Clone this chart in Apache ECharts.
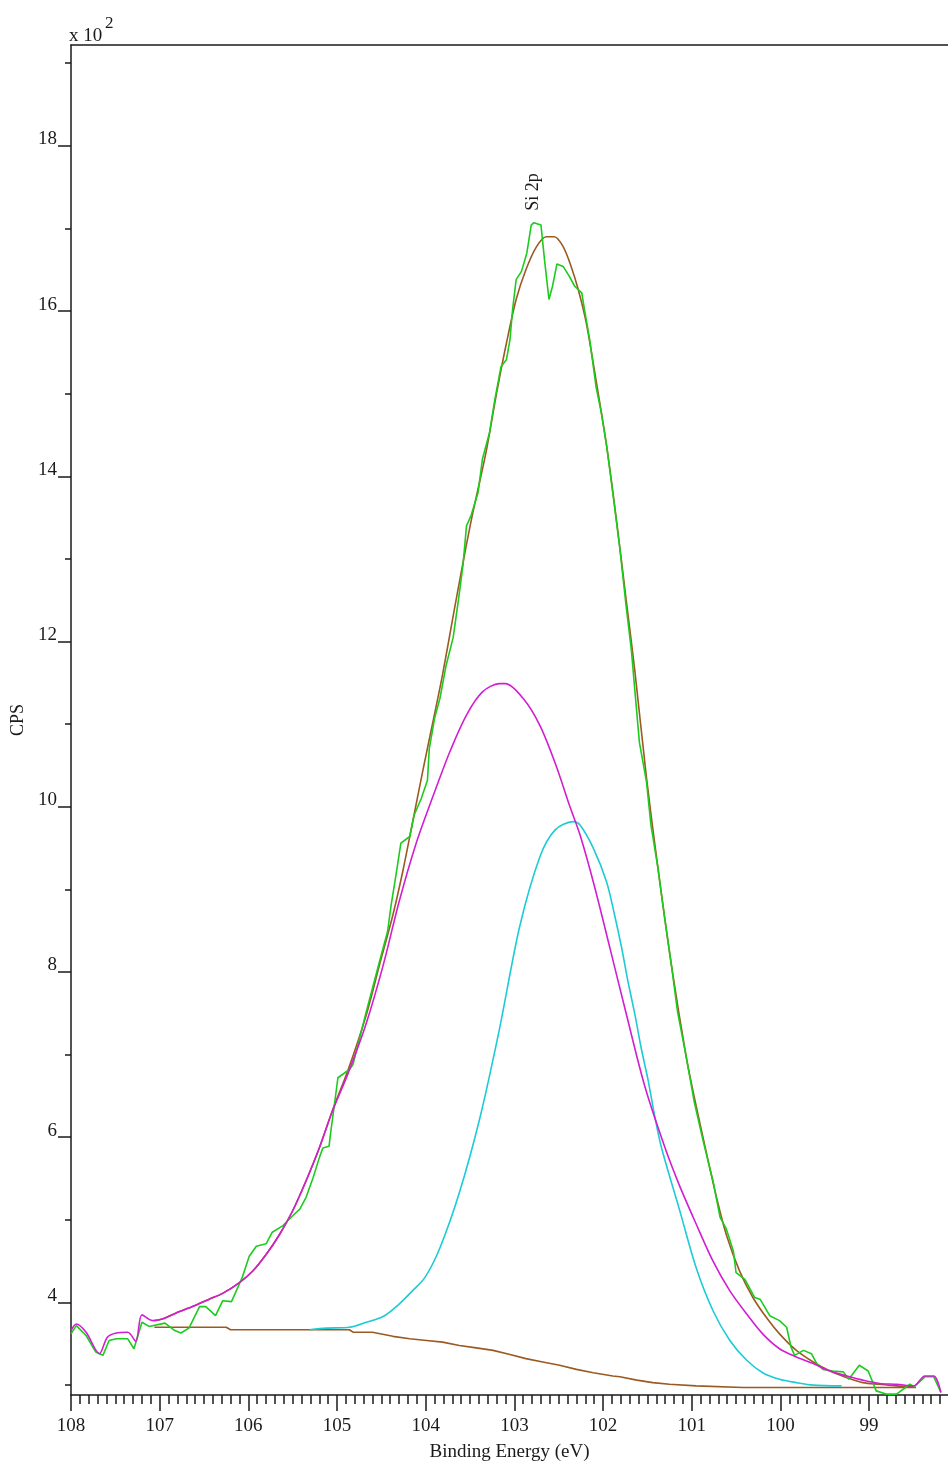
<!DOCTYPE html>
<html>
<head>
<meta charset="utf-8">
<script src="https://cdn.jsdelivr.net/npm/echarts@6/dist/echarts.min.js"></script>
<style>
html,body{margin:0;padding:0;background:#fff;}
#chart{width:948px;height:1467px;}
</style>
</head>
<body>
<div id="chart"></div>
<script>
// Binding energy (eV) / CPS (x10^2) pairs
const rawCounts = [
[108.00,3.62],[107.94,3.72],[107.83,3.60],[107.72,3.40],[107.64,3.36],[107.57,3.54],[107.49,3.56],[107.36,3.56],
[107.29,3.44],[107.20,3.76],[107.12,3.71],[106.94,3.75],[106.83,3.66],[106.76,3.63],[106.67,3.69],[106.55,3.95],
[106.48,3.95],[106.37,3.84],[106.29,4.02],[106.19,4.01],[106.07,4.30],[105.99,4.56],[105.91,4.68],[105.80,4.71],
[105.73,4.85],[105.61,4.93],[105.50,5.05],[105.42,5.13],[105.35,5.27],[105.27,5.51],[105.20,5.75],[105.16,5.87],
[105.09,5.89],[105.07,6.07],[105.03,6.39],[104.99,6.72],[104.86,6.82],[104.82,6.88],[104.67,7.52],[104.52,8.13],
[104.43,8.49],[104.39,8.81],[104.33,9.21],[104.28,9.56],[104.18,9.64],[104.13,9.90],[104.05,10.10],[103.98,10.32],
[103.96,10.70],[103.90,11.07],[103.84,11.31],[103.77,11.71],[103.69,12.05],[103.63,12.51],[103.58,12.92],[103.54,13.40],
[103.49,13.52],[103.41,13.80],[103.36,14.21],[103.28,14.53],[103.22,14.93],[103.15,15.33],[103.09,15.41],[103.05,15.65],
[103.02,16.02],[102.98,16.38],[102.92,16.48],[102.86,16.70],[102.81,17.04],[102.78,17.07],[102.70,17.04],[102.66,16.62],
[102.61,16.14],[102.57,16.30],[102.52,16.57],[102.45,16.54],[102.38,16.42],[102.32,16.30],[102.24,16.22],[102.21,16.02],
[102.15,15.65],[102.08,15.09],[102.02,14.77],[101.96,14.37],[101.89,13.80],[101.81,13.12],[101.74,12.43],[101.68,11.89],
[101.64,11.39],[101.59,10.78],[101.51,10.30],[101.46,9.78],[101.38,9.25],[101.31,8.69],[101.23,8.09],[101.16,7.52],
[101.06,6.96],[100.97,6.42],[100.87,5.95],[100.76,5.47],[100.68,5.03],[100.61,4.89],[100.53,4.62],[100.50,4.36],
[100.40,4.28],[100.29,4.06],[100.23,4.04],[100.12,3.84],[100.01,3.78],[99.93,3.70],[99.88,3.46],[99.84,3.36],
[99.74,3.42],[99.65,3.38],[99.59,3.26],[99.52,3.19],[99.41,3.17],[99.29,3.16],[99.23,3.07],[99.11,3.24],
[99.01,3.17],[98.92,2.93],[98.80,2.89],[98.69,2.89],[98.54,3.01],[98.49,2.98],[98.37,3.10],[98.27,3.10],[98.19,2.91]
];

const envelopeFit = [
[107.06,3.78],[106.97,3.80],[106.82,3.87],[106.63,3.95],[106.44,4.04],[106.29,4.11],[106.10,4.24],[105.95,4.38],
[105.80,4.58],[105.65,4.82],[105.50,5.11],[105.35,5.47],[105.20,5.87],[105.05,6.33],[104.88,6.80],[104.67,7.48],
[104.52,8.09],[104.37,8.69],[104.26,9.21],[104.15,9.80],[104.03,10.45],[103.92,11.02],[103.81,11.60],[103.69,12.31],
[103.58,12.95],[103.47,13.55],[103.32,14.29],[103.20,15.01],[103.09,15.61],[102.98,16.14],[102.87,16.50],[102.75,16.78],
[102.64,16.90],[102.55,16.90],[102.45,16.78],[102.36,16.54],[102.28,16.26],[102.19,15.86],[102.08,15.17],[101.96,14.37],
[101.85,13.48],[101.74,12.51],[101.64,11.63],[101.51,10.35],[101.38,9.25],[101.23,8.09],[101.06,6.96],[100.97,6.48],
[100.83,5.79],[100.72,5.27],[100.61,4.82],[100.46,4.38],[100.31,4.06],[100.16,3.82],[100.01,3.62],[99.82,3.42],
[99.63,3.28],[99.44,3.17],[99.25,3.09],[99.07,3.03],[98.88,3.01],[98.69,2.99],[98.49,2.98]
];

const componentHigh = [
[108.00,3.66],[107.94,3.74],[107.83,3.64],[107.68,3.38],[107.59,3.58],[107.49,3.63],[107.36,3.64],[107.27,3.53],
[107.20,3.85],[107.08,3.78],[106.97,3.80],[106.82,3.87],[106.63,3.95],[106.44,4.04],[106.29,4.11],[106.10,4.24],
[105.95,4.38],[105.80,4.58],[105.65,4.82],[105.50,5.11],[105.35,5.47],[105.20,5.87],[105.05,6.32],[104.88,6.76],
[104.67,7.38],[104.48,8.08],[104.30,8.85],[104.11,9.55],[103.92,10.12],[103.73,10.66],[103.54,11.11],[103.36,11.39],
[103.17,11.49],[103.10,11.49],[102.90,11.31],[102.71,10.98],[102.53,10.50],[102.38,10.02],[102.26,9.66],[102.10,9.05],
[101.92,8.28],[101.74,7.50],[101.53,6.62],[101.31,5.90],[101.14,5.42],[100.95,4.95],[100.76,4.50],[100.57,4.14],
[100.38,3.86],[100.20,3.62],[100.01,3.44],[99.82,3.34],[99.63,3.26],[99.44,3.17],[99.25,3.11],[99.07,3.06],
[98.88,3.02],[98.69,3.01],[98.50,2.99],[98.37,3.11],[98.27,3.11],[98.19,2.91]
];

const componentLow = [
[105.31,3.67],[105.12,3.69],[104.86,3.70],[104.67,3.76],[104.48,3.83],[104.30,3.98],[104.15,4.14],[104.01,4.30],
[103.84,4.66],[103.62,5.33],[103.39,6.23],[103.17,7.30],[102.94,8.55],[102.71,9.40],[102.54,9.72],[102.34,9.82],
[102.26,9.78],[102.11,9.50],[101.96,9.09],[101.87,8.69],[101.79,8.29],[101.72,7.89],[101.64,7.48],[101.57,7.08],
[101.49,6.68],[101.42,6.27],[101.34,5.87],[101.14,5.13],[100.95,4.42],[100.76,3.90],[100.57,3.54],[100.38,3.30],
[100.20,3.15],[100.01,3.07],[99.82,3.03],[99.63,3.00],[99.31,2.99]
];

const background = [
[107.06,3.70],[106.25,3.70],[106.20,3.67],[104.86,3.67],[104.82,3.64],[104.60,3.64],[104.37,3.59],[104.18,3.56],
[103.99,3.54],[103.81,3.52],[103.62,3.48],[103.43,3.45],[103.24,3.42],[103.05,3.37],[102.87,3.32],[102.68,3.28],
[102.49,3.24],[102.30,3.19],[102.11,3.15],[101.89,3.11],[101.81,3.10],[101.62,3.06],[101.44,3.03],[101.25,3.01],
[100.95,2.99],[100.42,2.97],[98.47,2.97]
];

const xMajorTicks = [108,107,106,105,104,103,102,101,100,99];
const yMajorTicks = [4,6,8,10,12,14,16,18];
const yMinorTicks = [3,5,7,9,11,13,15,17,19];
const xMinorTicks = [];
for (let i = 982; i <= 1080; i++) xMinorTicks.push(i / 10);

const X_MIN = 98.11, X_MAX = 108;
const Y_MIN = 2.88, Y_MAX = 19.22;

const FONT = 'Liberation Serif';
const INK = '#1a1a1a';

const chart = echarts.init(document.getElementById('chart'), null, {renderer: 'canvas'});

function lineSeries(name, data, color, z, smooth) {
  return {
    name: name, type: 'line', data: data, xAxisIndex: 0, yAxisIndex: 0,
    showSymbol: false, symbol: 'none', smooth: smooth, z: z,
    lineStyle: {color: color, width: 1.6}, emphasis: {disabled: true}, animation: false
  };
}

chart.setOption({
  animation: false,
  backgroundColor: '#ffffff',
  grid: {left: 71, top: 45, right: 0, bottom: 70, containLabel: false},
  xAxis: [
    {
      type: 'value', inverse: true, min: X_MIN, max: X_MAX, position: 'bottom',
      axisLine: {show: true, onZero: false, lineStyle: {color: INK, width: 1.5}},
      axisTick: {show: true, customValues: xMajorTicks, length: 16, lineStyle: {color: INK, width: 1.5}},
      axisLabel: {show: true, customValues: xMajorTicks, margin: 22, fontFamily: FONT, fontSize: 19, color: INK},
      splitLine: {show: false},
      name: 'Binding Energy (eV)', nameLocation: 'middle', nameGap: 48,
      nameTextStyle: {fontFamily: FONT, fontSize: 19, color: INK}
    },
    {
      type: 'value', inverse: true, min: X_MIN, max: X_MAX, position: 'bottom',
      axisLine: {show: false},
      axisTick: {show: true, customValues: xMinorTicks, length: 9, lineStyle: {color: INK, width: 1.5}},
      axisLabel: {show: false}, splitLine: {show: false}
    },
    {
      type: 'value', inverse: true, min: X_MIN, max: X_MAX, position: 'top',
      axisLine: {show: true, onZero: false, lineStyle: {color: INK, width: 1.5}},
      axisTick: {show: false}, axisLabel: {show: false}, splitLine: {show: false}
    }
  ],
  yAxis: [
    {
      type: 'value', min: Y_MIN, max: Y_MAX, position: 'left',
      axisLine: {show: true, onZero: false, lineStyle: {color: INK, width: 1.5}},
      axisTick: {show: true, customValues: yMajorTicks, length: 13, lineStyle: {color: INK, width: 1.5}},
      axisLabel: {show: true, customValues: yMajorTicks, margin: 14, fontFamily: FONT, fontSize: 19, color: INK,
                  verticalAlign: 'bottom', lineHeight: 13},
      splitLine: {show: false},
      name: 'CPS', nameLocation: 'middle', nameGap: 41, nameRotate: 90,
      nameTextStyle: {fontFamily: FONT, fontSize: 18, color: INK}
    },
    {
      type: 'value', min: Y_MIN, max: Y_MAX, position: 'left',
      axisLine: {show: false},
      axisTick: {show: true, customValues: yMinorTicks, length: 6, lineStyle: {color: INK, width: 1.5}},
      axisLabel: {show: false}, splitLine: {show: false}
    }
  ],
  graphic: [
    {type: 'text', left: 69, top: 27, style: {text: 'x 10', font: '19px "Liberation Serif"', fill: INK}},
    {type: 'text', left: 105, top: 15, style: {text: '2', font: '17px "Liberation Serif"', fill: INK}},
    {type: 'text', x: 533, y: 192, rotation: Math.PI / 2,
     style: {text: 'Si 2p', font: '18px "Liberation Serif"', fill: INK, align: 'center', verticalAlign: 'middle'}}
  ],
  series: [
    lineSeries('Background', background, '#9b5a22', 2, false),
    lineSeries('Envelope', envelopeFit, '#9b5a22', 3, 0.3),
    lineSeries('Raw', rawCounts, '#1ccc1c', 4, false),
    lineSeries('Component 2', componentLow, '#1ccbd6', 5, 0.3),
    lineSeries('Component 1', componentHigh, '#d21ed2', 6, 0.3)
  ]
});
</script>
</body>
</html>
